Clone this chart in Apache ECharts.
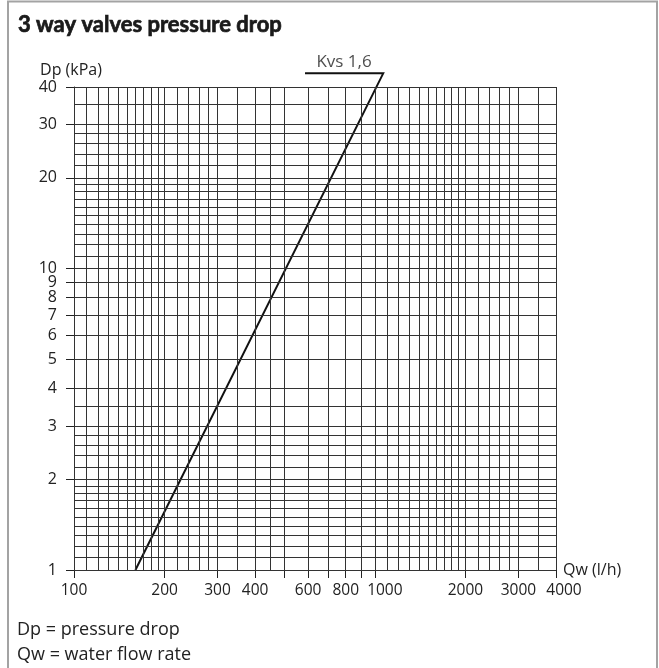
<!DOCTYPE html>
<html>
<head>
<meta charset="utf-8">
<script src="https://cdn.jsdelivr.net/npm/echarts@6/dist/echarts.min.js"></script>
<style>
  html, body { margin: 0; padding: 0; background: #fff; }
  #chart { width: 659px; height: 668px; }
</style>
</head>
<body>
<div id="chart"></div>
<script>
// Flow rate grid (l/h) – log paper lines
const qwGrid = [100, 110, 120, 130, 140, 150, 160, 170, 180, 190,
                200, 220, 240, 260, 280, 300, 350, 400, 450, 500,
                600, 700, 800, 900,
                1000, 1100, 1200, 1300, 1400, 1500, 1600, 1700, 1800, 1900,
                2000, 2200, 2400, 2600, 2800, 3000, 3500, 4000];
// Pressure drop grid (kPa)
const dpGrid = [1, 1.1, 1.2, 1.3, 1.4, 1.5, 1.6, 1.7, 1.8, 1.9,
                2, 2.2, 2.4, 2.6, 2.8, 3, 3.5, 4, 5, 6, 7, 8, 9,
                10, 11, 12, 13, 14, 15, 16, 17, 18, 19,
                20, 22, 24, 26, 28, 30, 35, 40];

const qwTicks = [100, 200, 300, 400, 500, 600, 700, 800, 900, 1000, 2000, 3000, 4000];
const qwLabels = [100, 200, 300, 400, 600, 800, 1000, 2000, 3000, 4000];
const dpTicks = [1, 2, 3, 4, 5, 6, 7, 8, 9, 10, 20, 30, 40];

// Kvs 1,6 characteristic, running up into its callout leader
const kvsQw = [160, 1066, 586];
const kvsDp = [1, 44.4, 44.4];
const kvsName = 'Kvs 1,6';
const kvsLabelAt = [790, 44.4];

const FONT = 'Open Sans';
const TXT = '#222';

const chart = echarts.init(document.getElementById('chart'), null, { renderer: 'canvas' });

const gridLines = qwGrid.map(v => ({ xAxis: v })).concat(dpGrid.map(v => ({ yAxis: v })));

chart.setOption({
  animation: false,
  backgroundColor: '#fff',
  title: {
    text: '3 way valves pressure drop',
    left: 13,
    top: 9,
    textStyle: {
      fontFamily: 'Lato', fontWeight: 'bold', fontSize: 22, color: '#1a1a1a',
      textBorderColor: '#1a1a1a', textBorderWidth: 0.7
    }
  },
  grid: { left: 74, top: 87, width: 482, height: 483 },
  xAxis: {
    type: 'log',
    logBase: 10,
    min: 100,
    max: 4000,
    name: 'Qw (l/h)',
    nameLocation: 'end',
    nameGap: 7,
    nameTextStyle: { fontFamily: FONT, fontSize: 16, color: TXT, align: 'left', verticalAlign: 'middle' },
    axisLine: { show: true, lineStyle: { color: '#222', width: 1 } },
    axisTick: { show: true, inside: false, length: 8, customValues: qwTicks, lineStyle: { color: '#222', width: 1 } },
    axisLabel: {
      customValues: qwLabels, margin: 13, fontFamily: FONT, fontSize: 15.5, color: TXT,
      // 1000 and 4000 sit just right of their ticks to clear their neighbours
      formatter: v => {
        const n = Math.round(v);
        if (n === 1000) return '{shiftA|1000}';
        if (n === 4000) return '{shiftB|4000}';
        return String(n);
      },
      rich: {
        shiftA: { fontFamily: FONT, fontSize: 15.5, color: TXT, padding: [0, 0, 0, 20] },
        shiftB: { fontFamily: FONT, fontSize: 15.5, color: TXT, padding: [0, 0, 0, 16] }
      }
    },
    splitLine: { show: false },
    minorTick: { show: false },
    minorSplitLine: { show: false }
  },
  yAxis: {
    type: 'log',
    logBase: 10,
    min: 1,
    max: 40,
    name: 'Dp (kPa)',
    nameLocation: 'end',
    nameGap: 9,
    nameTextStyle: { fontFamily: FONT, fontSize: 16, color: TXT, align: 'center', verticalAlign: 'bottom', padding: [0, 6, 0, 0] },
    axisLine: { show: true, lineStyle: { color: '#222', width: 1 } },
    axisTick: { show: true, inside: false, length: 8, customValues: dpTicks, lineStyle: { color: '#222', width: 1 } },
    axisLabel: {
      customValues: dpTicks, margin: 17, fontFamily: FONT, fontSize: 16, color: TXT,
      formatter: v => String(Math.round(v))
    },
    splitLine: { show: false },
    minorTick: { show: false },
    minorSplitLine: { show: false }
  },
  series: [
    {
      type: 'line',
      z: 1,
      data: [],
      symbol: 'none',
      silent: true,
      markLine: {
        silent: true,
        animation: false,
        symbol: ['none', 'none'],
        label: { show: false },
        emphasis: { disabled: true },
        lineStyle: { color: '#333', width: 1, type: 'solid' },
        data: gridLines
      }
    },
    {
      type: 'line',
      z: 3,
      name: kvsName,
      data: kvsQw.map((q, i) => [q, kvsDp[i]]),
      symbol: 'none',
      clip: false,
      silent: true,
      lineStyle: { color: '#111', width: 2, join: 'miter' }
    },
    {
      type: 'scatter',
      z: 3,
      data: [kvsLabelAt],
      symbolSize: 0,
      clip: false,
      silent: true,
      label: {
        show: true, position: 'top', distance: 3, formatter: kvsName,
        fontFamily: FONT, fontSize: 17, color: TXT
      }
    }
  ],
  graphic: [
    {
      type: 'rect',
      silent: true,
      shape: { x: 8, y: 1.5, width: 649, height: 700 },
      style: { fill: 'none', stroke: '#a3a3a3', lineWidth: 2 }
    },
    {
      type: 'text',
      x: 17,
      y: 630,
      style: { text: 'Dp = pressure drop', font: '18px "Open Sans"', fill: TXT, verticalAlign: 'middle' }
    },
    {
      type: 'text',
      x: 17,
      y: 655,
      style: { text: 'Qw = water flow rate', font: '18px "Open Sans"', fill: TXT, verticalAlign: 'middle' }
    }
  ]
});
</script>
</body>
</html>
